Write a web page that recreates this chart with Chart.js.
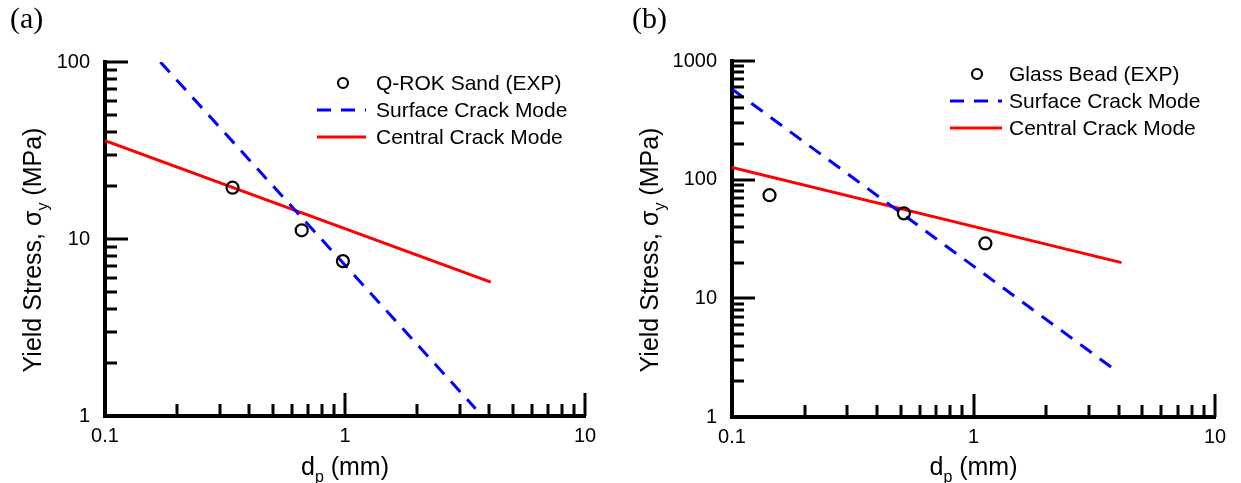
<!DOCTYPE html>
<html>
<head>
<meta charset="utf-8">
<script src="https://cdn.jsdelivr.net/npm/chart.js@4.4.1/dist/chart.umd.min.js"></script>
<style>
  html, body { margin: 0; padding: 0; background: #fff; }
  #wrap { position: relative; width: 1241px; height: 483px; overflow: hidden; }
  .panel { position: absolute; top: 0; height: 483px; }
  #pa { left: 0; width: 620px; }
  #pb { left: 620px; width: 621px; }
  .tag { position: absolute; top: 1px; font-family: "Liberation Serif", "Times New Roman", serif; font-size: 30px; color: #000; }
</style>
</head>
<body>
<div id="wrap">
  <div class="panel" id="pa"><canvas id="ca" width="620" height="483"></canvas></div>
  <div class="panel" id="pb"><canvas id="cb" width="621" height="483"></canvas></div>
  <div class="tag" style="left:10px">(a)</div>
  <div class="tag" style="left:632px">(b)</div>
</div>
<script>
// Panel (a): Q-ROK sand
const sandExpD = [0.34, 0.66, 0.98];
const sandExpStress = [19.5, 11.2, 7.5];
const sandSurfaceD = [0.17, 3.5];
const sandSurfaceStress = [100, 1.1];
const sandCentralD = [0.1, 4.05];
const sandCentralStress = [36, 5.7];
const sandYTicks = [1, 10, 100];

// Panel (b): glass bead
const beadExpD = [0.143, 0.515, 1.12];
const beadExpStress = [74, 52, 29];
const beadSurfaceD = [0.1, 3.9];
const beadSurfaceStress = [580, 2.45];
const beadCentralD = [0.1, 4.1];
const beadCentralStress = [127, 20];
const beadYTicks = [1, 10, 100, 1000];

// Shared particle-size axis
const xTicks = [0.1, 1, 10];

const FONT = '"Liberation Sans", Arial, Helvetica, sans-serif';

// 2..9 within every decade between the labelled ticks
function minorTicks(majors) {
  const out = [];
  for (let i = 0; i < majors.length - 1; i++) {
    for (let k = 2; k <= 9; k++) out.push(+(majors[i] * k).toPrecision(3));
  }
  return out;
}

function pts(xs, ys) {
  return xs.map((x, i) => ({ x, y: ys[i] }));
}

// Tick marks pointing into the plot area, long at decades, short in between
const inwardTicks = {
  id: 'inwardTicks',
  afterDraw(chart, args, o) {
    const { ctx, chartArea: a } = chart;
    const sx = chart.scales.x, sy = chart.scales.y;
    ctx.save();
    ctx.strokeStyle = '#000';
    ctx.lineWidth = o.width;
    ctx.lineCap = 'butt';
    const seg = (x1, y1, x2, y2) => { ctx.beginPath(); ctx.moveTo(x1, y1); ctx.lineTo(x2, y2); ctx.stroke(); };
    o.xMajor.forEach(v => { const p = Math.round(sx.getPixelForValue(v)); seg(p, a.bottom, p, a.bottom - o.major); });
    o.xMinor.forEach(v => { const p = Math.round(sx.getPixelForValue(v)); seg(p, a.bottom, p, a.bottom - o.minor); });
    o.yMajor.forEach(v => { const p = Math.round(sy.getPixelForValue(v)); seg(a.left, p, a.left + o.major, p); });
    o.yMinor.forEach(v => { const p = Math.round(sy.getPixelForValue(v)); seg(a.left, p, a.left + o.minor, p); });
    ctx.restore();
  }
};

// Legend block inside the plot, one row per dataset
const sketchLegend = {
  id: 'sketchLegend',
  afterDraw(chart, args, o) {
    const ctx = chart.ctx;
    ctx.save();
    ctx.font = o.size + 'px ' + FONT;
    ctx.textBaseline = 'middle';
    ctx.textAlign = 'left';
    chart.data.datasets.forEach((ds, i) => {
      const y = o.top + i * o.step;
      if (ds.showLine === false) {
        ctx.setLineDash([]);
        ctx.beginPath();
        ctx.arc(o.markerX, y, o.markerR, 0, Math.PI * 2);
        ctx.lineWidth = ds.pointBorderWidth;
        ctx.strokeStyle = ds.pointBorderColor;
        ctx.stroke();
      } else {
        ctx.setLineDash(ds.borderDash || []);
        ctx.beginPath();
        ctx.moveTo(o.lineX0, y);
        ctx.lineTo(o.lineX1, y);
        ctx.lineWidth = ds.borderWidth;
        ctx.strokeStyle = ds.borderColor;
        ctx.stroke();
        ctx.setLineDash([]);
      }
      ctx.fillStyle = '#000';
      ctx.fillText(ds.label, o.textX, y + 1);
    });
    ctx.restore();
  }
};

// Axis titles with subscripts
const subTitles = {
  id: 'subTitles',
  afterDraw(chart, args, o) {
    const { ctx, chartArea: a } = chart;
    const big = o.size + 'px ' + FONT;
    const small = Math.round(o.size * 0.62) + 'px ' + FONT;
    const widthOf = parts => parts.reduce((w, p) => { ctx.font = p[1] ? small : big; return w + ctx.measureText(p[0]).width; }, 0);
    const run = (parts, x0) => {
      let x = x0;
      parts.forEach(p => {
        ctx.font = p[1] ? small : big;
        ctx.fillText(p[0], x, p[1] ? o.size * 0.28 : 0);
        x += ctx.measureText(p[0]).width;
      });
    };
    ctx.save();
    ctx.fillStyle = '#000';
    ctx.textBaseline = 'alphabetic';
    ctx.textAlign = 'left';
    // x title
    ctx.save();
    ctx.translate((a.left + a.right) / 2, o.xBaseline);
    run(o.xParts, -widthOf(o.xParts) / 2);
    ctx.restore();
    // y title
    ctx.save();
    ctx.translate(o.yBaseline, (a.top + a.bottom) / 2 + o.yShift);
    ctx.rotate(-Math.PI / 2);
    run(o.yParts, -widthOf(o.yParts) / 2);
    ctx.restore();
    ctx.restore();
  }
};

const yTitleParts = [['Yield Stress, \u03C3', false], ['y', true], [' (MPa)', false]];
const xTitleParts = [['d', false], ['p', true], [' (mm)', false]];

function panel(canvasId, c) {
  const tickFont = { family: FONT, size: 20 };
  return new Chart(document.getElementById(canvasId), {
    type: 'line',
    data: {
      datasets: [
        {
          label: c.expLabel,
          data: pts(c.expD, c.expS),
          showLine: false,
          pointStyle: 'circle',
          pointRadius: 6,
          pointBorderWidth: 2.2,
          pointBorderColor: '#000',
          pointBackgroundColor: 'rgba(0,0,0,0)',
          borderColor: '#000'
        },
        {
          label: 'Surface Crack Mode',
          data: pts(c.surfD, c.surfS),
          borderColor: '#0000ff',
          borderWidth: 3,
          borderDash: [14, 10],
          pointRadius: 0,
          fill: false
        },
        {
          label: 'Central Crack Mode',
          data: pts(c.centD, c.centS),
          borderColor: '#ff0000',
          borderWidth: 3,
          pointRadius: 0,
          fill: false
        }
      ]
    },
    options: {
      responsive: false,
      animation: false,
      events: [],
      layout: { padding: { top: c.top, right: c.right, left: 0, bottom: 0 } },
      scales: {
        x: {
          type: 'logarithmic',
          min: xTicks[0],
          max: xTicks[xTicks.length - 1],
          afterBuildTicks: s => { s.ticks = xTicks.map(v => ({ value: v })); },
          afterFit: s => { s.height = c.xAxisH; },
          ticks: { autoSkip: false, maxRotation: 0, padding: 8, color: '#000', font: tickFont, callback: v => String(v) },
          grid: { display: false, drawTicks: false },
          border: { display: true, color: '#000', width: 4 }
        },
        y: {
          type: 'logarithmic',
          min: c.yTicks[0],
          max: c.yTicks[c.yTicks.length - 1],
          afterBuildTicks: s => { s.ticks = c.yTicks.map(v => ({ value: v })); },
          afterFit: s => { s.width = c.yAxisW; },
          ticks: { autoSkip: false, padding: 15, color: '#000', font: tickFont, callback: v => String(v) },
          grid: { display: false, drawTicks: false },
          border: { display: true, color: '#000', width: 4 }
        }
      },
      plugins: {
        legend: { display: false },
        tooltip: { enabled: false },
        inwardTicks: {
          width: 3, major: 23, minor: 12,
          xMajor: xTicks, xMinor: minorTicks(xTicks),
          yMajor: c.yTicks, yMinor: minorTicks(c.yTicks)
        },
        sketchLegend: c.legend,
        subTitles: {
          size: 25, xParts: xTitleParts, yParts: yTitleParts,
          xBaseline: 475, yBaseline: c.yTitleBaseline, yShift: 11
        }
      }
    },
    plugins: [inwardTicks, sketchLegend, subTitles]
  });
}

panel('ca', {
  expLabel: 'Q-ROK Sand (EXP)',
  expD: sandExpD, expS: sandExpStress,
  surfD: sandSurfaceD, surfS: sandSurfaceStress,
  centD: sandCentralD, centS: sandCentralStress,
  yTicks: sandYTicks,
  top: 62, right: 35, xAxisH: 67, yAxisW: 105,
  yTitleBaseline: 41,
  legend: { size: 21, top: 83, step: 27, markerX: 343, markerR: 5, lineX0: 317, lineX1: 366, textX: 376 }
});

panel('cb', {
  expLabel: 'Glass Bead (EXP)',
  expD: beadExpD, expS: beadExpStress,
  surfD: beadSurfaceD, surfS: beadSurfaceStress,
  centD: beadCentralD, centS: beadCentralStress,
  yTicks: beadYTicks,
  top: 61, right: 26, xAxisH: 66, yAxisW: 112,
  yTitleBaseline: 38,
  legend: { size: 21, top: 74, step: 27, markerX: 357, markerR: 5, lineX0: 330, lineX1: 382, textX: 389 }
});
</script>
</body>
</html>
